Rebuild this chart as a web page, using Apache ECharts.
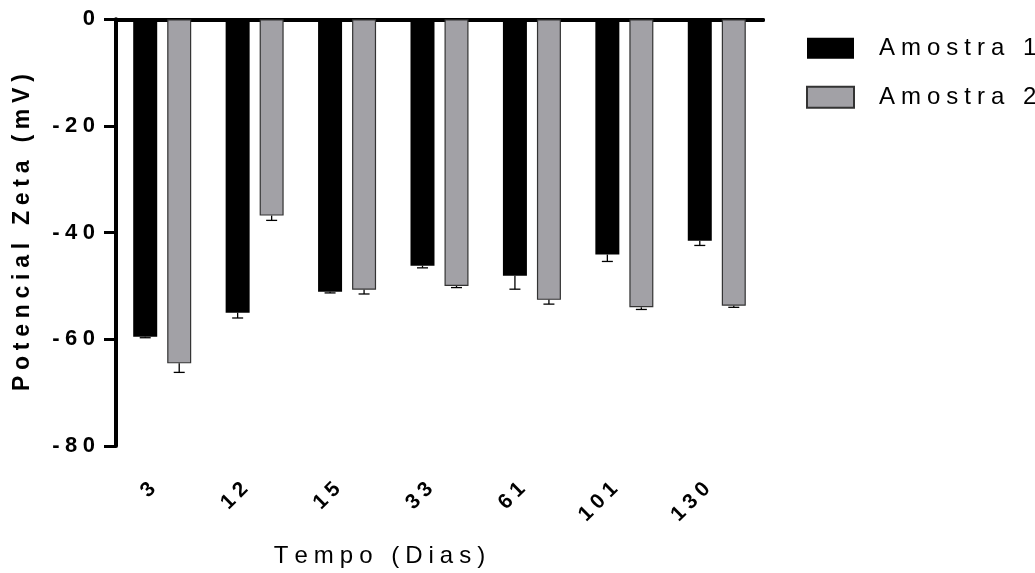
<!DOCTYPE html>
<html>
<head>
<meta charset="utf-8">
<script src="https://cdn.jsdelivr.net/npm/echarts@6/dist/echarts.min.js"></script>
<style>
  html, body { margin: 0; padding: 0; background: #fff; }
  #chart { width: 1035px; height: 573px; }
</style>
</head>
<body>
<div id="chart"></div>
<script>
// Zeta potential over storage time, two samples (mean with error bar)
const days = ['3', '12', '15', '33', '61', '101', '130'];
const amostra1 = [-59.5, -55.0, -51.1, -46.2, -48.1, -44.1, -41.5];
const amostra1Err = [0.2, 1.0, 0.2, 0.4, 2.5, 1.3, 0.9];
const amostra2 = [-64.5, -36.8, -50.7, -50.0, -52.6, -54.0, -53.7];
const amostra2Err = [1.7, 0.9, 0.8, 0.3, 0.8, 0.4, 0.3];
const yTicks = { min: -80, max: 0, step: 20 };
const seriesNames = ['Amostra 1', 'Amostra 2'];

const FONT = 'Liberation Sans, Arial, sans-serif';
const BAR_W = 24;
const BAR_GAP = 10;
const GRAY = '#a2a1a6';

// widen letter spacing by placing a four-per-em space between characters
const spread = s => Array.from(String(s)).join('\u2005');

function errorBars(values, errs, side) {
  return {
    type: 'custom',
    z: 5,
    silent: true,
    data: values.map((v, i) => [i, v, errs[i]]),
    encode: { x: 0, y: 1 },
    renderItem: (params, api) => {
      const i = api.value(0), v = api.value(1), e = api.value(2);
      const p0 = api.coord([i, v]);
      const p1 = api.coord([i, v - e]);
      const x = p0[0] + side * (BAR_W + BAR_GAP) / 2;
      const style = { stroke: '#000', lineWidth: 1.3 };
      return {
        type: 'group',
        children: [
          { type: 'line', shape: { x1: x, y1: p0[1], x2: x, y2: p1[1] }, style },
          { type: 'line', shape: { x1: x - 5.5, y1: p1[1], x2: x + 5.5, y2: p1[1] }, style }
        ]
      };
    }
  };
}

const chart = echarts.init(document.getElementById('chart'), null, { renderer: 'canvas' });
chart.setOption({
  animation: false,
  backgroundColor: '#fff',
  grid: { left: 116, right: 272, top: 19.3, bottom: 123.5 },
  legend: {
    orient: 'vertical',
    left: 806,
    top: 33.7,
    padding: 0,
    itemWidth: 47,
    itemHeight: 21,
    itemGap: 20,
    icon: 'rect',
    data: seriesNames,
    formatter: name => spread(name),
    textStyle: {
      fontFamily: FONT, fontSize: 24, color: '#000',
      lineHeight: 21, padding: [8, 0, 0, 20]
    }
  },
  xAxis: [
    {
      type: 'category',
      data: days,
      position: 'bottom',
      boundaryGap: true,
      name: spread('Tempo (Dias)'),
      nameLocation: 'middle',
      nameGap: 98,
      nameTextStyle: {
        fontFamily: FONT, fontSize: 24, color: '#000',
        padding: [0, 120, 0, 0]
      },
      axisLine: { lineStyle: { color: '#000', width: 4 } },
      axisTick: { alignWithLabel: true, length: 12, lineStyle: { color: '#000', width: 3 } },
      axisLabel: {
        rotate: 45,
        margin: 30,
        formatter: v => spread(v),
        fontFamily: FONT, fontSize: 21, fontWeight: 'bold', color: '#000',
        padding: [0, 14, 0, 0]
      },
      splitLine: { show: false }
    },
    {
      type: 'category',
      data: days,
      position: 'top',
      axisLine: { lineStyle: { color: '#000', width: 4 } },
      axisTick: { show: false },
      axisLabel: { show: false },
      splitLine: { show: false }
    }
  ],
  yAxis: {
    type: 'value',
    min: yTicks.min,
    max: yTicks.max,
    interval: yTicks.step,
    name: spread('Potencial Zeta (mV)'),
    nameLocation: 'middle',
    nameRotate: 90,
    nameGap: 82,
    nameTextStyle: { fontFamily: FONT, fontSize: 23, fontWeight: 'bold', color: '#000' },
    axisLine: { show: true, lineStyle: { color: '#000', width: 4 } },
    axisTick: { show: true, length: 12, lineStyle: { color: '#000', width: 3 } },
    axisLabel: {
      margin: 21,
      formatter: v => spread(v),
      fontFamily: FONT, fontSize: 22, fontWeight: 'bold', color: '#000',
      padding: [4, 0, 0, 0]
    },
    splitLine: { show: false }
  },
  series: [
    {
      name: seriesNames[0],
      type: 'bar',
      data: amostra1,
      barWidth: BAR_W,
      barGap: (BAR_GAP / BAR_W * 100).toFixed(1) + '%',
      itemStyle: { color: '#000', borderColor: '#000', borderWidth: 0 }
    },
    {
      name: seriesNames[1],
      type: 'bar',
      data: amostra2,
      barWidth: BAR_W,
      itemStyle: { color: GRAY, borderColor: '#333', borderWidth: 1.2 }
    },
    errorBars(amostra1, amostra1Err, -1),
    errorBars(amostra2, amostra2Err, 1)
  ]
});
</script>
</body>
</html>
